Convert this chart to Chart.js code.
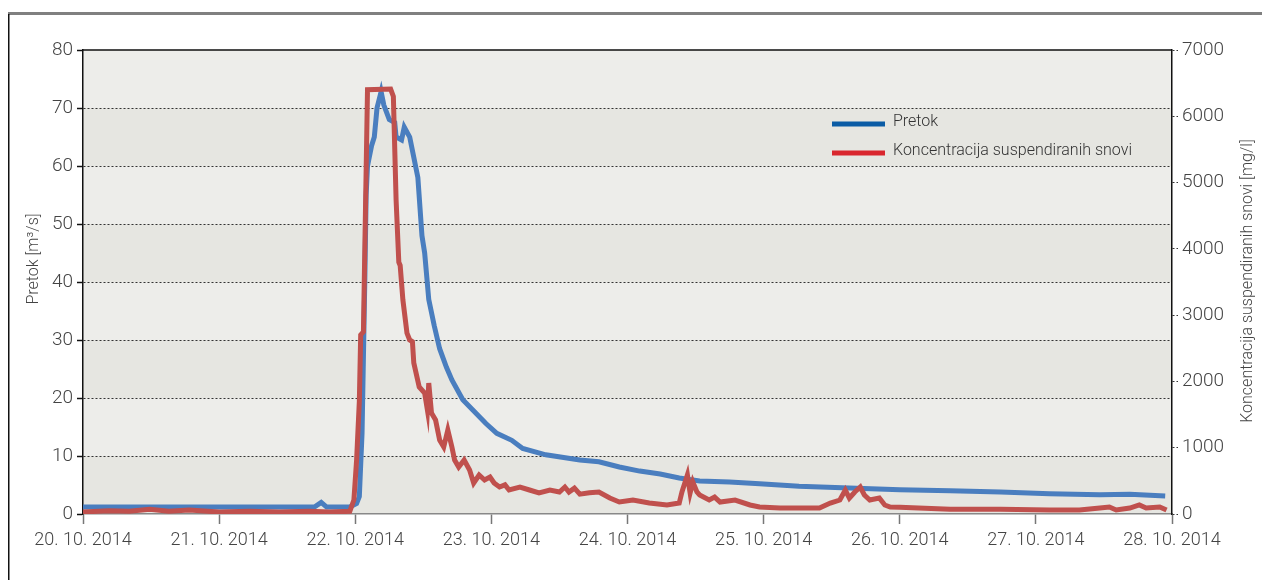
<!DOCTYPE html>
<html>
<head>
<meta charset="utf-8">
<script src="https://cdn.jsdelivr.net/npm/chart.js@4.4.1/dist/chart.umd.min.js"></script>
<style>
  html, body { margin: 0; padding: 0; background: #fff; }
  #wrap { width: 1262px; height: 580px; }
</style>
</head>
<body>
<div id="wrap"><canvas id="mycanvas" width="1262" height="580"></canvas></div>
<script>
// days since 20. 10. 2014 00:00
var dateLabels = ['20. 10. 2014', '21. 10. 2014', '22. 10. 2014', '23. 10. 2014', '24. 10. 2014',
                  '25. 10. 2014', '26. 10. 2014', '27. 10. 2014', '28. 10. 2014'];

// Pretok [m3/s]
var pretokDays = [0.00, 0.49, 1.22, 1.70, 1.75, 1.79, 1.96, 2.01, 2.03, 2.05, 2.07, 2.08, 2.09, 2.12, 2.14, 2.16,
                  2.19, 2.21, 2.25, 2.29, 2.30, 2.34, 2.36, 2.40, 2.43, 2.46, 2.49, 2.51, 2.54, 2.58, 2.62, 2.67,
                  2.71, 2.79, 2.86, 2.96, 3.04, 3.15, 3.23, 3.40, 3.65, 3.79, 3.94, 4.09, 4.24, 4.38, 4.53, 4.75,
                  4.97, 5.26, 5.63, 6.00, 6.37, 6.74, 7.10, 7.47, 7.69, 7.95];
var pretokValues = [1.2, 1.2, 1.2, 1.2, 2.0, 1.2, 1.2, 1.8, 3, 14, 40, 55, 60, 63.5, 65, 70,
                    72.8, 70.5, 68, 67.5, 65, 64.5, 66.7, 65, 61.5, 58, 48, 45, 37, 32.5, 28.5, 25.3,
                    23.1, 19.7, 18, 15.6, 13.9, 12.7, 11.3, 10.2, 9.3, 9, 8.1, 7.4, 6.9, 6.2, 5.7, 5.5,
                    5.2, 4.8, 4.5, 4.2, 4.0, 3.8, 3.5, 3.3, 3.4, 3.1];

// Koncentracija suspendiranih snovi [mg/l]
var koncDays = [0.00, 0.19, 0.34, 0.49, 0.63, 0.78, 1.00, 1.22, 1.44, 1.66, 1.81, 1.96, 1.99, 2.01, 2.03, 2.04,
                2.06, 2.09, 2.26, 2.28, 2.30, 2.32, 2.33, 2.35, 2.38, 2.40, 2.42, 2.43, 2.47, 2.51, 2.53, 2.54,
                2.56, 2.59, 2.62, 2.65, 2.68, 2.71, 2.73, 2.76, 2.80, 2.84, 2.87, 2.91, 2.95, 2.99, 3.02, 3.06,
                3.10, 3.13, 3.21, 3.28, 3.35, 3.43, 3.50, 3.54, 3.57, 3.61, 3.65, 3.72, 3.79, 3.87, 3.94, 4.04,
                4.16, 4.29, 4.38, 4.40, 4.44, 4.46, 4.48, 4.51, 4.53, 4.60, 4.64, 4.68, 4.79, 4.90, 4.97, 5.12,
                5.26, 5.41, 5.49, 5.56, 5.60, 5.63, 5.67, 5.71, 5.74, 5.78, 5.85, 5.89, 5.93, 6.00, 6.37, 6.74,
                7.10, 7.32, 7.47, 7.54, 7.59, 7.69, 7.76, 7.81, 7.91, 7.96];
var koncValues = [30, 50, 40, 70, 40, 60, 30, 40, 30, 40, 30, 40, 210, 815, 1700, 2700,
                  2750, 6400, 6410, 6300, 4740, 3800, 3750, 3230, 2730, 2625, 2600, 2280, 1916, 1825, 1570, 1976,
                  1523, 1418, 1116, 1011, 1267, 1011, 815, 709, 815, 664, 468, 588, 513, 558, 468, 407,
                  440, 362, 407, 362, 317, 362, 332, 407, 332, 390, 300, 320, 332, 241, 181, 211,
                  166, 136, 166, 332, 588, 317, 483, 332, 287, 211, 256, 181, 211, 136, 106, 90,
                  90, 90, 166, 211, 362, 241, 332, 407, 287, 211, 241, 136, 106, 100, 70, 70,
                  60, 60, 90, 106, 60, 90, 136, 90, 106, 60];

var tickFont = 'Roboto, sans-serif';

function toPoints(xs, ys) {
  var out = [];
  for (var i in xs) {
    out.push({x: xs[i], y: ys[i]});
  }
  return out;
}

// alternating grey bands behind the plot
var bandsPlugin = {
  id: 'bands',
  beforeDraw: function(chart) {
    var c = chart.ctx, a = chart.chartArea, y = chart.scales.y;
    c.save();
    c.fillStyle = '#ffffff';
    c.fillRect(0, 0, chart.width, chart.height);
    for (var v = 0; v < 80; v += 10) {
      var top = y.getPixelForValue(v + 10), bot = y.getPixelForValue(v);
      c.fillStyle = (v / 10) % 2 === 0 ? '#e6e6e1' : '#ededea';
      c.fillRect(a.left, top, a.right - a.left, bot - top);
    }
    c.restore();
  }
};

// frame, top border, axis titles and legend
var extrasPlugin = {
  id: 'extras',
  afterDraw: function(chart) {
    var c = chart.ctx, a = chart.chartArea;
    c.save();
    c.fillStyle = '#808080';
    c.fillRect(8, 12, 1254, 3);
    c.fillStyle = '#111';
    c.fillRect(8, 14, 1.5, 566);
    c.fillRect(a.left, a.top - 0.75, a.right - a.left, 1.5);

    c.fillStyle = '#444';
    c.font = '300 16px ' + tickFont;
    c.textAlign = 'center';
    c.textBaseline = 'middle';
    c.save();
    c.translate(34, 259);
    c.rotate(-Math.PI / 2);
    c.fillText('Pretok [m\u00b3/s]', 0, 0);
    c.restore();
    c.save();
    c.translate(1248, 281);
    c.rotate(-Math.PI / 2);
    c.fillText('Koncentracija suspendiranih snovi [mg/l]', 0, 0);
    c.restore();

    // legend
    var items = [['Pretok', '#0b5ca5', 124], ['Koncentracija suspendiranih snovi', '#d9272e', 153]];
    c.textAlign = 'left';
    c.font = '300 16px ' + tickFont;
    for (var i in items) {
      c.fillStyle = items[i][1];
      c.fillRect(832, items[i][2] - 2.5, 53, 5);
      c.fillStyle = '#333';
      c.fillText(items[i][0], 893, items[i][2] - 2);
    }
    c.restore();
  }
};

var chartdata = {
  datasets: [
    {
      label: 'Pretok',
      data: toPoints(pretokDays, pretokValues),
      borderColor: '#4a7ebf',
      backgroundColor: '#4a7ebf',
      borderWidth: 5,
      pointRadius: 0,
      tension: 0,
      yAxisID: 'y',
      order: 2
    },
    {
      label: 'Koncentracija suspendiranih snovi',
      data: toPoints(koncDays, koncValues),
      borderColor: '#c0504d',
      backgroundColor: '#c0504d',
      borderWidth: 5,
      pointRadius: 0,
      tension: 0,
      yAxisID: 'y1',
      order: 1
    }
  ]
};

var ctx = document.getElementById('mycanvas');

var lineGraph = new Chart(ctx, {
  type: 'line',
  data: chartdata,
  plugins: [bandsPlugin, extrasPlugin],
  options: {
    responsive: false,
    devicePixelRatio: 1,
    animation: false,
    layout: { padding: { top: 50, left: 0, right: 0, bottom: 0 } },
    plugins: {
      legend: { display: false },
      tooltip: { enabled: false }
    },
    scales: {
      x: {
        type: 'linear',
        min: 0,
        max: 8,
        afterFit: function(s) { s.height = 66; },
        ticks: {
          stepSize: 1,
          padding: 6,
          color: '#444',
          font: { family: tickFont, size: 18, weight: '300' },
          maxRotation: 0,
          autoSkip: false,
          callback: function(v) { return dateLabels[v]; }
        },
        grid: { drawOnChartArea: false, tickLength: 10, tickColor: '#777', tickWidth: 1.5 },
        border: { color: '#888', width: 1.5 }
      },
      y: {
        position: 'left',
        min: 0,
        max: 80,
        afterFit: function(s) { s.width = 83; },
        ticks: {
          stepSize: 10,
          padding: 4,
          color: '#444',
          font: { family: tickFont, size: 19, weight: '300' }
        },
        grid: {
          color: function(c) {
            return (c.tick && (c.tick.value === 0 || c.tick.value === 80)) ? 'rgba(0,0,0,0)' : '#333';
          },
          lineWidth: 1,
          tickLength: 6,
          tickColor: '#111',
          tickWidth: 1.5
        },
        border: { color: '#111', width: 1.5, dash: [2, 2] }
      },
      y1: {
        position: 'right',
        min: 0,
        max: 7000,
        afterFit: function(s) { s.width = 90; },
        ticks: {
          stepSize: 1000,
          padding: 4,
          color: '#444',
          font: { family: tickFont, size: 19, weight: '300' },
          callback: function(v) { return String(v); }
        },
        grid: {
          drawOnChartArea: false,
          tickLength: 6,
          tickColor: '#333',
          tickBorderDash: [2, 2]
        },
        border: { color: '#111', width: 1.5 }
      }
    }
  }
});
</script>
</body>
</html>
